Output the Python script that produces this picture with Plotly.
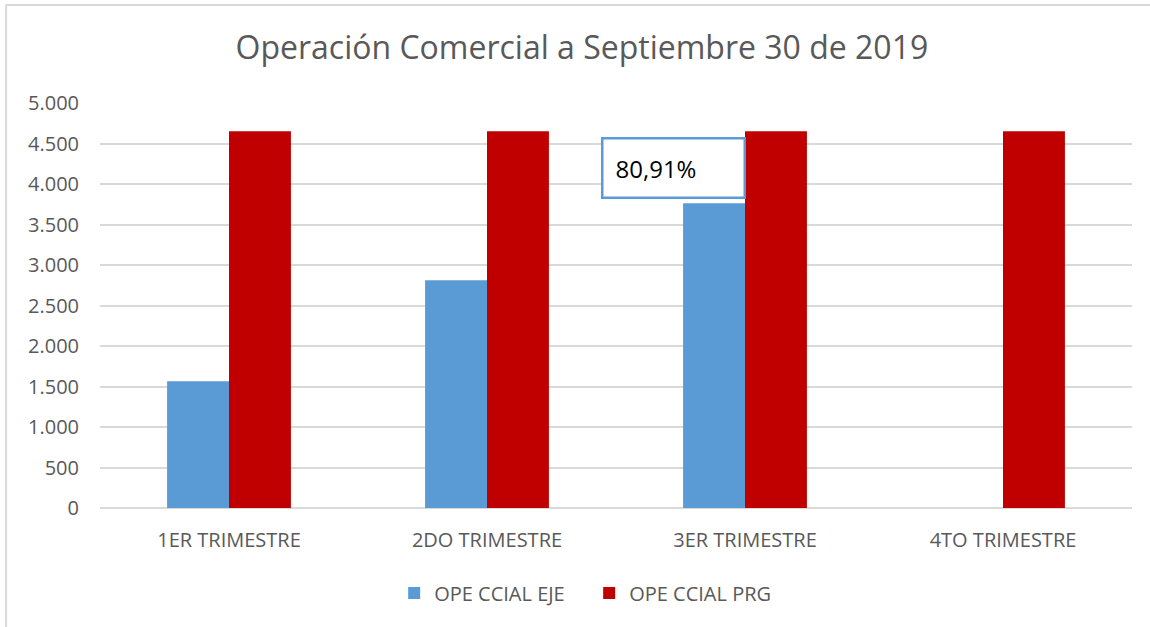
import plotly.graph_objects as go

categories = ["1ER TRIMESTRE", "2DO TRIMESTRE", "3ER TRIMESTRE", "4TO TRIMESTRE"]
eje_values = [1565, 2812, 3762, None]
prg_values = [4650, 4650, 4650, 4650]
y_ticks = [0, 500, 1000, 1500, 2000, 2500, 3000, 3500, 4000, 4500, 5000]
annotation_text = "80,91%"

font_family = "Open Sans, Liberation Sans, sans-serif"
gray = "#595959"

fig = go.Figure()
fig.add_trace(go.Bar(x=categories, y=eje_values, name="OPE CCIAL EJE",
                     marker=dict(color="#5B9BD5", line=dict(width=0))))
fig.add_trace(go.Bar(x=categories, y=prg_values, name="OPE CCIAL PRG",
                     marker=dict(color="#C00000", line=dict(width=0))))

fig.add_annotation(x="3ER TRIMESTRE", y=4198, xref="x", yref="y",
                   text=annotation_text, showarrow=False, xshift=-72,
                   font=dict(size=24, color="#000000", family=font_family),
                   bordercolor="#5B9BD5", borderwidth=2.5, borderpad=12,
                   bgcolor="white", width=116, align="left")

fig.update_layout(
    width=1150, height=627,
    paper_bgcolor="white", plot_bgcolor="white",
    separators=",.",
    title=dict(text="Operación Comercial a Septiembre 30 de 2019",
               x=0.506, xanchor="center", y=0.923, yanchor="middle",
               font=dict(size=32, color=gray, family=font_family)),
    margin=dict(l=100, r=18, t=103, b=119),
    barmode="group", bargap=0.52, bargroupgap=0,
    legend=dict(orientation="h", x=0.474, xanchor="center", y=-0.21, yanchor="middle",
                font=dict(size=20, color=gray, family=font_family),
                itemwidth=30, entrywidth=150, traceorder="normal"),
    font=dict(family=font_family, color=gray),
    shapes=[dict(type="rect", xref="paper", yref="paper",
                 x0=-0.091, x1=1.03, y0=-0.4, y1=1.242,
                 line=dict(color="#D9D9D9", width=2))],
)
fig.update_yaxes(range=[0, 5000], tickvals=y_ticks, tickformat=",.0f",
                 showgrid=True, gridcolor="#D9D9D9", gridwidth=1.5,
                 zeroline=True, zerolinecolor="#D9D9D9", zerolinewidth=1.5,
                 tickfont=dict(size=20, color=gray), ticks="", ticklabelstandoff=20)
fig.update_xaxes(showgrid=False, showline=False,
                 tickfont=dict(size=20, color=gray), ticks="", ticklabelstandoff=18)

fig.write_html("out.html", config={"displayModeBar": False},
               post_script="document.body.style.margin='0px';")
